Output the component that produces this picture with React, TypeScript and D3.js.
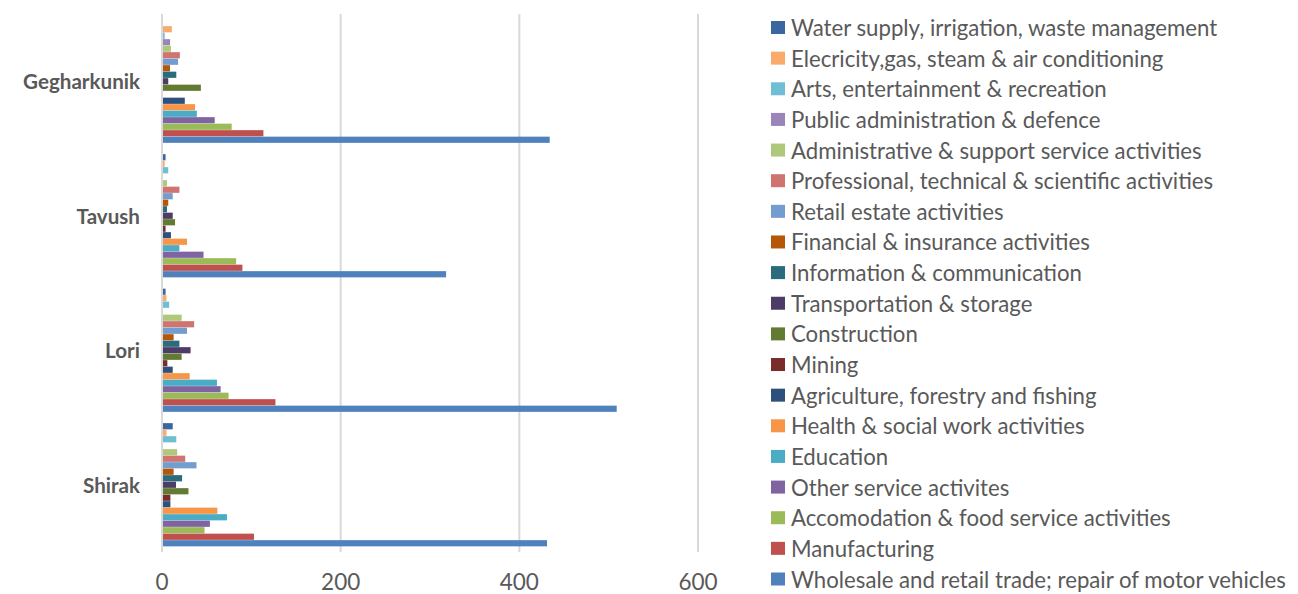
import React from "react";
import * as d3 from "d3";

const categories = ["Shirak", "Lori", "Tavush", "Gegharkunik"];

const seriesNames = [
  "Water supply, irrigation, waste management",
  "Elecricity,gas, steam & air conditioning",
  "Arts, entertainment & recreation",
  "Public administration & defence",
  "Administrative & support service activities",
  "Professional, technical & scientific activities",
  "Retail estate activities",
  "Financial & insurance activities",
  "Information & communication",
  "Transportation & storage",
  "Construction",
  "Mining",
  "Agriculture, forestry and fishing",
  "Health & social work activities",
  "Education",
  "Other service activites",
  "Accomodation & food service activities",
  "Manufacturing",
  "Wholesale and retail trade; repair of motor vehicles",
];

const seriesColors = [
  "#3B679E", "#F9AB6B", "#70BED3", "#9A85B8", "#AFC97B", "#CF7471",
  "#739CCF", "#B65708", "#2A6B7C", "#4D3C66", "#637A32", "#7A2C2A",
  "#2E507C", "#F79646", "#4BACC6", "#8064A2", "#9BBB59", "#C0504D", "#4F81BD",
];

// values per series in the order of `categories` (Shirak, Lori, Tavush, Gegharkunik)
const waterSupply = [12, 4, 4, 0];
const electricity = [5, 5, 3, 11];
const arts = [16, 8, 7, 3];
const publicAdmin = [0, 0, 0, 9];
const administrative = [17, 22, 5.6, 10];
const professional = [26, 36, 19.5, 20];
const retailEstate = [38.6, 28, 12, 18];
const financial = [13, 13, 7, 9];
const information = [22.5, 19.5, 5.6, 16];
const transportation = [15.7, 32, 12, 7];
const construction = [29.6, 22, 14.6, 43.5];
const mining = [9.4, 6, 4, 1];
const agriculture = [9.4, 12, 10, 25.5];
const health = [62, 31, 28, 37];
const education = [72.7, 61.5, 19.5, 39];
const otherService = [53.6, 65.6, 46.5, 59];
const accommodation = [47.6, 74.5, 83, 78];
const manufacturing = [103, 127, 90, 113.5];
const wholesale = [431, 509, 318, 434];

const seriesValues = [
  waterSupply, electricity, arts, publicAdmin, administrative, professional,
  retailEstate, financial, information, transportation, construction, mining,
  agriculture, health, education, otherService, accommodation, manufacturing, wholesale,
];

const xTicks = [0, 200, 400, 600];

const W = 1298;
const H = 594;
const FONT = "Lato, 'Open Sans', sans-serif";
const TEXT = "#595959";

export default function App() {
  const x = d3.scaleLinear().domain([0, 600]).range([162, 698]);
  const y0 = d3
    .scaleBand<string>()
    .domain([...categories].reverse())
    .range([14, 552])
    .padding(0);
  const y1 = d3
    .scaleBand<number>()
    .domain(d3.range(seriesNames.length))
    .range([0, y0.bandwidth()])
    .paddingInner(0)
    .paddingOuter(0.845);

  const legendY = d3
    .scalePoint<number>()
    .domain(d3.range(seriesNames.length))
    .range([27.5, 579]);

  return (
    <div style={{ position: "fixed", left: 0, top: 0 }}>
      <svg width={W} height={H} style={{ display: "block", background: "#fff" }}>
        {/* gridlines */}
        {xTicks.map((t) => (
          <line
            key={t}
            x1={x(t)}
            x2={x(t)}
            y1={14}
            y2={552}
            stroke="#D9D9D9"
            strokeWidth={2}
          />
        ))}
        {/* bars */}
        {categories.map((c, ci) => (
          <g key={c} transform={`translate(0,${y0(c)})`}>
            {seriesValues.map((vals, si) =>
              vals[ci] > 0 ? (
                <rect
                  key={si}
                  x={x(0) + 1}
                  y={y1(si)! + 0.15}
                  width={Math.max(0, x(vals[ci]) - x(0) - 1)}
                  height={y1.bandwidth() - 0.3}
                  fill={seriesColors[si]}
                />
              ) : null
            )}
          </g>
        ))}
        {/* category labels */}
        {categories.map((c) => (
          <text
            key={c}
            x={140}
            y={y0(c)! + y0.bandwidth() / 2}
            textAnchor="end"
            dominantBaseline="central"
            fontFamily={FONT}
            fontWeight="bold"
            fontSize={20.6}
            fill={TEXT}
          >
            {c}
          </text>
        ))}
        {/* x tick labels */}
        {xTicks.map((t) => (
          <text
            key={t}
            x={x(t)}
            y={581}
            textAnchor="middle"
            dominantBaseline="central"
            fontFamily={FONT}
            fontSize={22.5}
            fill={TEXT}
          >
            {t}
          </text>
        ))}
        {/* legend */}
        {seriesNames.map((name, i) => (
          <g key={name} transform={`translate(0,${legendY(i)})`}>
            <rect x={771} y={-6.5} width={14} height={13} fill={seriesColors[i]} />
            <text
              x={791}
              y={0}
              dominantBaseline="central"
              fontFamily={FONT}
              fontSize={22.2}
              fill={TEXT}
            >
              {name}
            </text>
          </g>
        ))}
      </svg>
    </div>
  );
}
